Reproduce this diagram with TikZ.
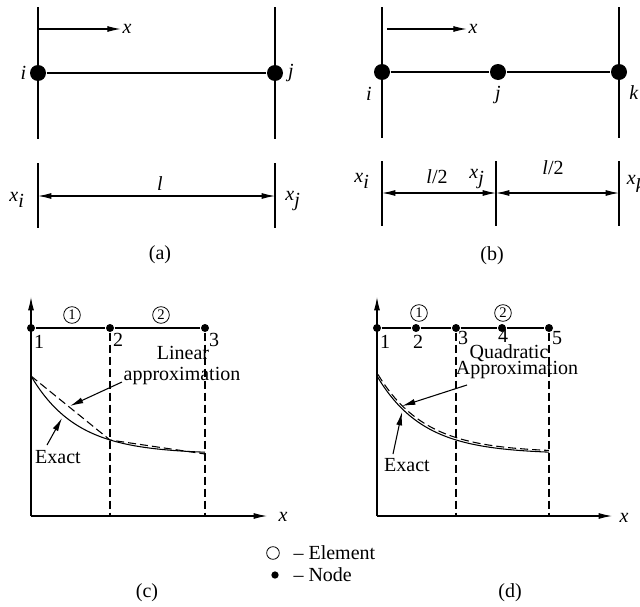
\documentclass[tikz,border=0pt]{standalone}
\usepackage{fontspec}
\setmainfont{Liberation Serif}
\usetikzlibrary{arrows.meta, positioning}

\begin{document}
\begin{tikzpicture}[x=0.75pt, y=-0.75pt, >={Latex[length=10pt,width=4.5pt]},
  font=\fontsize{15}{17}\selectfont, line width=0.8pt,
  big/.style={circle, fill, inner sep=0pt, minimum size=12pt},
  dot/.style={circle, fill, inner sep=0pt, minimum size=6pt},
  elem/.style={circle, draw, line width=0.6pt, inner sep=0pt, minimum size=12.5pt, font=\fontsize{11}{11}\selectfont},
  lbl/.style={inner sep=1pt},
  dsh/.style={dashed, dash pattern=on 6pt off 3pt}]
\useasboundingbox (0,0) rectangle (640,607);
\clip (0,0) rectangle (640,607);

% (a)
\coordinate (a1t) at (38,7);   \coordinate (a1b) at (38,139);
\coordinate (a2t) at (275,7);  \coordinate (a2b) at (275,139);
\coordinate (a3t) at (38,163); \coordinate (a3b) at (38,228);
\coordinate (a4t) at (275,163); \coordinate (a4b) at (275,228);
\draw (a1t) -- (a1b); \draw (a2t) -- (a2b);
\draw (a3t) -- (a3b); \draw (a4t) -- (a4b);
\node[big] (ai) at (38,73) {};
\node[big] (aj) at (275,73) {};
\draw (ai) -- (aj);
\node[lbl, left=1pt of ai] (ail) {\textit{i}};
\node[lbl, right=2pt of aj] (ajl) {\textit{j}};
\coordinate (ax0) at (38,29);
\node[lbl] (ax) at (127,29) {\textit{x}};
\draw[->] (ax0) -- (ax.west);
\coordinate (al) at (38,196); \coordinate (ar) at (275,196);
\draw[<->] (al) -- (ar);
\node (alen) at (160,184) {\textit{l}};
\node (axi) at (17,200) {$\textit{x}_{\textit{i}}$};
\node (axj) at (293,201) {$\textit{x}_{\textit{j}}$};
\node (acap) at (160,255) {(a)};

% (b)
\coordinate (b1t) at (382,7);   \coordinate (b1b) at (382,138);
\coordinate (b2t) at (619,7);   \coordinate (b2b) at (619,138);
\coordinate (b3t) at (382,161); \coordinate (b3b) at (382,226);
\coordinate (b4t) at (496,161); \coordinate (b4b) at (496,226);
\coordinate (b5t) at (619,161); \coordinate (b5b) at (619,226);
\draw (b1t) -- (b1b); \draw (b2t) -- (b2b);
\draw (b3t) -- (b3b); \draw (b4t) -- (b4b); \draw (b5t) -- (b5b);
\node[big] (bi) at (382,72) {};
\node[big] (bj) at (498,72) {};
\node[big] (bk) at (619,72) {};
\draw (bi) -- (bj) -- (bk);
\node (bil) at (369,94) {\textit{i}};
\node (bjl) at (498,95) {\textit{j}};
\node (bkl) at (634,93) {\textit{k}};
\coordinate (bx0) at (387,29);
\node[lbl] (bx) at (473,29) {\textit{x}};
\draw[->] (bx0) -- (bx.west);
\coordinate (bl) at (382,193); \coordinate (bm) at (496,193); \coordinate (br) at (619,193);
\draw[<->] (bl) -- (bm);
\draw[<->] (bm) -- (br);
\node (bh1) at (437,177) {\textit{l}/2};
\node (bh2) at (553,168) {\textit{l}/2};
\node (bxi) at (362,181) {$\textit{x}_{\textit{i}}$};
\node (bxj) at (477,179) {$\textit{x}_{\textit{j}}$};
\node (bxk) at (636,184) {$\textit{x}_{\textit{k}}$};
\node (bcap) at (492,256) {(b)};

% (c)
\coordinate (co) at (31,516);
\coordinate (cy) at (31,297);
\coordinate (cx) at (267,516);
\draw[->] (co) -- (cy);
\draw[->] (co) -- (cx);
\node (cxl) at (283,517) {\textit{x}};
\node[dot] (c1) at (31,328) {};
\node[dot] (c2) at (110,328) {};
\node[dot] (c3) at (205,328) {};
\draw (c1) -- (c2) -- (c3);
\coordinate (c2b) at (110,516); \coordinate (c3b) at (205,516);
\draw[dsh] (c2) -- (c2b);
\draw[dsh] (c3) -- (c3b);
\node (c1l) at (39,342) {1};
\node (c2l) at (118,340) {2};
\node (c3l) at (214,340) {3};
\node[elem] (ce1) at (72,315) {1};
\node[elem] (ce2) at (161,315) {2};
\draw plot[domain=31:205, samples=60] (\x, {454-78*exp(-0.0217*(\x-31))});
\coordinate (cA) at (31,376); \coordinate (cB) at (110,440); \coordinate (cC) at (205,454);
\draw[dsh] (cA) -- (cB) -- (cC);
\node (clin1) at (183,353) {Linear};
\node (clin2) at (182,376) {approximation};
\coordinate (cls) at (122,382); \coordinate (clt) at (70,406);
\draw[->] (cls) -- (clt);
\node (cex) at (58,457) {Exact};
\coordinate (ces) at (47,445); \coordinate (cet) at (62,418);
\draw[->] (ces) -- (cet);
\node (ccap) at (147,593) {(c)};

% legend
\node[circle, draw, line width=0.6pt, inner sep=0pt, minimum size=9.5pt] (lge) at (273,553) {};
\node[anchor=west, inner sep=0pt] (lgel) at (293,553) {-- Element};
\node[circle, fill, inner sep=0pt, minimum size=5.5pt] (lgn) at (275,575) {};
\node[anchor=west, inner sep=0pt] (lgnl) at (293,575) {-- Node};

% (d)
\coordinate (do) at (377,516);
\coordinate (dy) at (377,297);
\coordinate (dx) at (612,516);
\draw[->] (do) -- (dy);
\draw[->] (do) -- (dx);
\node (dxl) at (624,518) {\textit{x}};
\foreach \n/\px in {1/377, 2/416, 3/456, 4/502, 5/549}
  \node[dot] (d\n) at (\px,328) {};
\draw (d1) -- (d2) -- (d3) -- (d4) -- (d5);
\coordinate (d3b) at (456,516); \coordinate (d5b) at (549,516);
\draw[dsh] (d3) -- (d3b);
\draw[dsh] (d5) -- (d5b);
\node (d1l) at (385,342) {1};
\node (d2l) at (418,342) {2};
\node (d3l) at (463,338) {3};
\node (d4l) at (503,336) {4};
\node (d5l) at (557,338) {5};
\node[elem] (de1) at (419,313) {1};
\node[elem] (de2) at (503,313) {2};
\draw plot[domain=377:549, samples=60] (\x, {454-78*exp(-0.0217*(\x-377))});
\draw[dsh] plot[domain=378:549, samples=60] (\x, {452.5-78*exp(-0.0212*(\x-378))});
\node (dq1) at (509,353) {Quadratic};
\node (dq2) at (517,370) {Approximation};
\coordinate (dqs) at (467,385); \coordinate (dqt) at (402,406);
\draw[->] (dqs) -- (dqt);
\node (dex) at (407,465) {Exact};
\coordinate (des) at (393,454); \coordinate (det) at (402,412);
\draw[->] (des) -- (det);
\node (dcap) at (510,593) {(d)};
\end{tikzpicture}
\end{document}
